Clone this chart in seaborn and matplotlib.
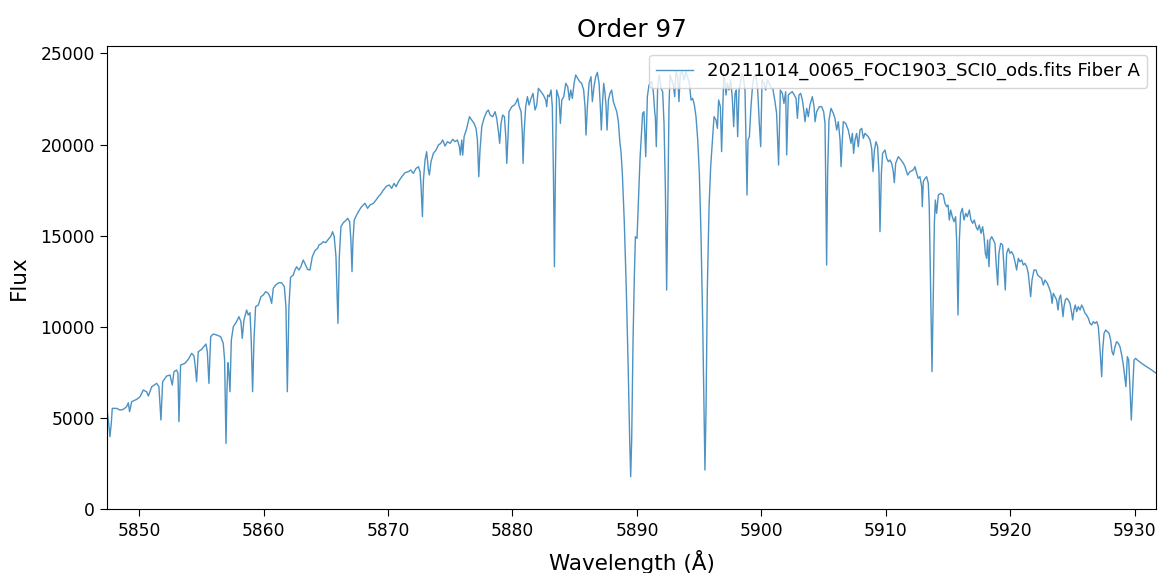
import matplotlib
matplotlib.use("Agg")
import matplotlib.pyplot as plt
import seaborn as sns
import numpy as np

title = "Order 97"
series_label = "20211014_0065_FOC1903_SCI0_ods.fits Fiber A"
x_label = "Wavelength (Å)"
y_label = "Flux"
x_ticks = [5850, 5860, 5870, 5880, 5890, 5900, 5910, 5920, 5930]
y_ticks = [0, 5000, 10000, 15000, 20000, 25000]

wavelength = [
    5847.43, 5847.54, 5847.64, 5847.75, 5847.83, 5848.18, 5848.45, 5848.72, 5848.98, 5849.12,
    5849.22, 5849.39, 5849.79, 5850.06, 5850.32, 5850.59, 5850.73, 5851.00, 5851.40, 5851.58,
    5851.74, 5851.88, 5852.20, 5852.47, 5852.65, 5852.79, 5853.00, 5853.11, 5853.19, 5853.32,
    5853.67, 5853.94, 5854.21, 5854.40, 5854.50, 5854.61, 5854.74, 5855.01, 5855.36, 5855.47,
    5855.60, 5855.74, 5855.95, 5856.22, 5856.54, 5856.75, 5856.86, 5856.97, 5857.05, 5857.13,
    5857.21, 5857.29, 5857.40, 5857.56,
    5857.82, 5858.01, 5858.17, 5858.28, 5858.41, 5858.63, 5858.76, 5858.90, 5859.00, 5859.11,
    5859.22, 5859.35, 5859.57, 5859.78, 5859.97, 5860.16, 5860.37, 5860.50, 5860.64, 5860.77,
    5860.96, 5861.23, 5861.44, 5861.66, 5861.79, 5861.90, 5862.03, 5862.16, 5862.38, 5862.51,
    5862.65, 5862.83, 5862.99, 5863.18, 5863.37, 5863.53, 5863.72, 5863.91, 5864.12, 5864.34,
    5864.44, 5864.60, 5864.79, 5864.98, 5865.19, 5865.41, 5865.54, 5865.67, 5865.81, 5865.97,
    5866.08, 5866.21, 5866.40, 5866.59, 5866.75, 5866.91, 5867.01, 5867.10, 5867.18, 5867.28,
    5867.47, 5867.66, 5867.87, 5868.14, 5868.35, 5868.54,
    5868.82, 5869.03, 5869.22, 5869.41, 5869.62, 5869.89, 5870.10, 5870.29, 5870.48, 5870.64,
    5870.83, 5871.10, 5871.36, 5871.63, 5871.82, 5872.03, 5872.25, 5872.44, 5872.57, 5872.65,
    5872.76, 5872.84, 5872.97, 5873.10, 5873.24, 5873.32, 5873.45, 5873.64, 5873.86, 5874.04,
    5874.23, 5874.39, 5874.58, 5874.77, 5874.98, 5875.20, 5875.38, 5875.57, 5875.73, 5875.81,
    5875.92, 5876.00, 5876.11, 5876.32, 5876.54, 5876.72, 5876.91, 5877.07, 5877.18, 5877.29,
    5877.39, 5877.53, 5877.71, 5877.93, 5878.06, 5878.20, 5878.41, 5878.60, 5878.73, 5878.87,
    5878.97, 5879.08, 5879.21, 5879.35, 5879.46, 5879.54, 5879.64,
    5879.72, 5879.94, 5880.15, 5880.28, 5880.42, 5880.53, 5880.69, 5880.79, 5880.85, 5880.93,
    5881.06, 5881.20, 5881.33, 5881.49, 5881.65, 5881.81, 5881.95, 5882.08, 5882.29, 5882.48,
    5882.67, 5882.75, 5882.83, 5882.96, 5883.10, 5883.20, 5883.29, 5883.37, 5883.45, 5883.55,
    5883.74, 5883.85, 5883.96, 5884.12, 5884.28, 5884.44, 5884.57, 5884.68, 5884.81, 5884.95,
    5885.08, 5885.24, 5885.40, 5885.56, 5885.72, 5885.83, 5885.91, 5886.02, 5886.15, 5886.31,
    5886.42, 5886.55, 5886.69, 5886.82, 5886.96, 5887.06, 5887.14, 5887.22, 5887.33, 5887.44,
    5887.52, 5887.60, 5887.71, 5887.84, 5887.97, 5888.11, 5888.24, 5888.38, 5888.51, 5888.64,
    5888.72, 5888.83, 5888.99, 5889.15, 5889.31, 5889.42, 5889.50, 5889.58, 5889.69, 5889.80,
    5889.88, 5890.01, 5890.12, 5890.25,
    5890.46, 5890.57, 5890.71, 5890.84, 5890.97, 5891.19, 5891.32, 5891.43, 5891.48, 5891.56,
    5891.67, 5891.80, 5891.94, 5892.07, 5892.18, 5892.29, 5892.39, 5892.50, 5892.58, 5892.66,
    5892.80, 5892.93, 5893.04, 5893.14, 5893.28, 5893.38, 5893.49, 5893.63, 5893.79, 5893.92,
    5894.06, 5894.22, 5894.35, 5894.48, 5894.62, 5894.75, 5894.89, 5895.02, 5895.15, 5895.29,
    5895.39, 5895.47, 5895.56, 5895.66, 5895.80, 5895.93, 5896.09, 5896.20, 5896.36, 5896.47,
    5896.57, 5896.71, 5896.81, 5896.90, 5896.98, 5897.08, 5897.16, 5897.27, 5897.40, 5897.54,
    5897.67, 5897.78, 5897.89, 5897.99, 5898.10, 5898.21, 5898.34, 5898.45, 5898.56, 5898.69,
    5898.77, 5898.85, 5898.93, 5899.04, 5899.17, 5899.31, 5899.44, 5899.57, 5899.71, 5899.84,
    5899.95, 5900.06, 5900.22, 5900.35, 5900.49, 5900.65, 5900.78, 5900.92,
    5901.10, 5901.23, 5901.39, 5901.53, 5901.69, 5901.82, 5901.96, 5902.04, 5902.17, 5902.31,
    5902.49, 5902.65, 5902.79, 5902.90, 5903.03, 5903.16, 5903.30, 5903.43, 5903.51, 5903.65,
    5903.78, 5903.91, 5904.10, 5904.24, 5904.32, 5904.45, 5904.66, 5904.85, 5905.01, 5905.12,
    5905.17, 5905.25, 5905.33, 5905.44, 5905.60, 5905.79, 5905.92, 5906.06, 5906.19, 5906.33,
    5906.41, 5906.51, 5906.59, 5906.78, 5906.99, 5907.21, 5907.32, 5907.42, 5907.53, 5907.66,
    5907.80, 5907.93, 5908.07, 5908.20, 5908.33, 5908.47, 5908.60, 5908.74, 5908.87, 5908.98,
    5909.09, 5909.22, 5909.35, 5909.46, 5909.54, 5909.65, 5909.75, 5909.94, 5910.08, 5910.21,
    5910.34, 5910.48, 5910.61, 5910.69, 5910.80, 5911.01, 5911.23, 5911.42, 5911.55, 5911.76,
    5911.95,
    5912.22, 5912.35, 5912.49, 5912.62, 5912.75, 5912.89, 5912.94, 5913.02, 5913.16, 5913.29,
    5913.42, 5913.50, 5913.61, 5913.72, 5913.83, 5913.91, 5913.99, 5914.09, 5914.23, 5914.42,
    5914.63, 5914.76, 5914.90, 5915.01, 5915.11, 5915.22, 5915.35, 5915.49, 5915.62, 5915.70,
    5915.81, 5915.92, 5916.02, 5916.16, 5916.29, 5916.43, 5916.56, 5916.72, 5916.85, 5916.99,
    5917.12, 5917.26, 5917.39, 5917.52, 5917.66, 5917.79, 5917.90, 5918.01, 5918.11, 5918.19,
    5918.30, 5918.38, 5918.52, 5918.65, 5918.78, 5918.86, 5919.00, 5919.10, 5919.24, 5919.40,
    5919.53, 5919.61, 5919.72, 5919.86, 5919.99, 5920.12, 5920.26, 5920.39, 5920.52, 5920.66,
    5920.79, 5920.93, 5921.06, 5921.19, 5921.33, 5921.46, 5921.54, 5921.65, 5921.76, 5921.92,
    5922.08, 5922.21, 5922.35,
    5922.53, 5922.67, 5922.80, 5922.99, 5923.15, 5923.28, 5923.37, 5923.47, 5923.61, 5923.74,
    5923.85, 5923.95, 5924.06, 5924.14, 5924.25, 5924.33, 5924.44, 5924.54, 5924.68, 5924.81,
    5924.95, 5925.03, 5925.13, 5925.24, 5925.35, 5925.48, 5925.62, 5925.75, 5925.88, 5926.02,
    5926.15, 5926.29, 5926.42, 5926.55, 5926.69, 5926.82, 5926.96, 5927.09, 5927.17, 5927.28,
    5927.36, 5927.44, 5927.55, 5927.68, 5927.81, 5927.95, 5928.08, 5928.19, 5928.30, 5928.43,
    5928.56, 5928.70, 5928.83, 5928.97, 5929.10, 5929.21, 5929.31, 5929.42, 5929.53, 5929.64,
    5929.74, 5929.85, 5929.96, 5930.09, 5930.22, 5930.39, 5930.57, 5930.76, 5930.97, 5931.19,
    5931.38, 5931.56, 5931.75,
]

flux = [
    5351, 4710, 3980, 4710, 5534, 5534, 5443, 5480, 5625, 5845,
    5351, 5900, 6027, 6173, 6539, 6448, 6210, 6722, 6905, 6722,
    4895, 6997, 7306, 7362, 6814, 7545, 7636, 7454, 4804, 7910,
    8002, 8221, 8551, 8404, 7819, 6997, 8642, 8770, 9063, 8642,
    6905, 9465, 9612, 9557, 9465, 9099, 8185, 3614, 6539, 8038,
    7454, 6448, 9282, 10013,
    10288, 10562, 10288, 9374, 10379, 10927, 10653, 10781, 9282, 6448,
    9282, 11110, 11201, 11658, 11750, 11933, 11841, 11658, 11293, 12115,
    12298, 12426, 12426, 12207, 11110, 6448, 11110, 12718, 12846, 13120,
    13303, 13120, 13303, 13669, 13394, 13156, 13120, 13852, 14179, 14307,
    14490, 14545, 14673, 14618, 14801, 14984, 15222, 14947, 13852, 10196,
    13852, 15496, 15716, 15826, 15954, 15771, 14765, 13029, 14765, 15862,
    16137, 16374, 16593, 16776, 16502, 16685,
    16776, 16959, 17141, 17288, 17507, 17726, 17781, 17598, 17872, 17690,
    17964, 18238, 18457, 18512, 18603, 18420, 18695, 18786, 18512, 17690,
    16045, 18055, 19152, 19608, 18603, 18329, 19060, 19517, 19700, 19974,
    20066, 20249, 19919, 20157, 20066, 20285, 20157, 20249, 19883, 19426,
    20249, 19426, 20431, 20888, 21528, 21345, 21163, 20888, 20249, 18238,
    19700, 20980, 21437, 21802, 21894, 21620, 21528, 21802, 21437, 20706,
    20066, 21163, 21620, 21528, 20431, 18969, 20431,
    21802, 22076, 22168, 22296, 22533, 22113, 21802, 20614, 18969, 20614,
    22076, 22625, 22168, 22533, 22808, 21894, 22168, 23082, 22899, 22716,
    22442, 22076, 22716, 22625, 22990, 22076, 18420, 13303, 18420, 22990,
    22533, 21163, 22442, 22625, 23356, 23173, 22442, 22990, 22533, 23356,
    23813, 23630, 23447, 23356, 22990, 22076, 20523, 22076, 23356, 23721,
    22351, 23173, 23721, 23959, 23356, 22076, 20797, 22076, 23356, 22808,
    22076, 20797, 22442, 22808, 22990, 22351, 22076, 21802, 21254, 20066,
    19609, 18420, 15679, 12022, 7452, 3798, 1787, 3798, 9280, 12936,
    14947, 14856, 16776, 19200,
    21711, 21802, 19335, 22625, 23264, 23447, 22899, 21802, 21528, 19883,
    23173, 23813, 23082, 22899, 21163, 17507, 12022, 17507, 22076, 23813,
    23539, 23264, 22625, 23996, 23721, 22351, 23904, 23996, 23539, 23996,
    23721, 23356, 22442, 22533, 22168, 21528, 20249, 18420, 15130, 10196,
    5625, 2153, 5625, 12022, 16593, 18786, 20431, 21528, 21345, 20888,
    22442, 22076, 19609, 21894, 23813, 23356, 22716, 23356, 22990, 23539,
    22533, 20980, 22808, 22990, 20431, 22990, 23447, 23904, 23721, 22990,
    20249, 17232, 20249, 20431, 22076, 23356, 23813, 23721, 22990, 21163,
    19883, 23539, 23356, 22990, 23539, 23356, 23082, 23082,
    22351, 21711, 18878, 22990, 22808, 22259, 22899, 19426, 22716, 22808,
    22899, 22716, 22533, 21437, 22716, 22808, 22442, 21802, 21254, 21985,
    21528, 22168, 22625, 22076, 21254, 21802, 22076, 22076, 21802, 21163,
    18420, 13395, 18420, 21345, 21985, 21711, 21437, 20797, 21254, 20249,
    18787, 20249, 21254, 21163, 20797, 20066, 20614, 19518, 20249, 20614,
    19883, 20797, 20888, 20340, 20614, 20523, 20432, 20249, 19792, 18513,
    19700, 20157, 19883, 18420, 15223, 18420, 19518, 19700, 19244, 19061,
    19152, 18970, 18513, 17909, 18970, 19335, 19152, 18970, 18787, 18330,
    18513,
    18604, 18787, 18421, 18147, 18238, 17690, 16594, 17964, 18147, 18238,
    17873, 16594, 12024, 7546, 12024, 15680, 16959, 16228, 17233, 17325,
    17233, 16776, 16594, 16685, 15862, 16411, 16045, 15771, 16045, 14766,
    10653, 14766, 16228, 16502, 15862, 16228, 16045, 16411, 15862, 15680,
    15862, 15497, 15314, 15588, 15131, 15497, 14949, 14035, 13761, 14766,
    13304, 14766, 14949, 14766, 14583, 13669, 12298, 14035, 14583, 14492,
    12938, 12024, 14035, 14309, 14035, 14126, 13943, 13578, 13121, 13761,
    13578, 13669, 13395, 13486, 13304, 12938, 12390, 11659, 12573, 13121,
    13121, 12847, 12755,
    12664, 12298, 12573, 12390, 12116, 11841, 11293, 11841, 11659, 11476,
    10928, 11567, 11750, 11293, 10562, 11110, 11476, 11567, 11476, 11293,
    10745, 10379, 10928, 11202, 10836, 11110, 10928, 11202, 11019, 10745,
    10653, 10470, 10197, 10105, 10288, 10197, 10288, 10014, 9283, 8186,
    7272, 8734, 9648, 9831, 9740, 9648, 9283, 8643, 8460, 8917,
    9191, 9100, 8917, 8460, 7912, 7272, 6724, 8369, 8186, 6541,
    4896, 6541, 8186, 8277, 8186, 8095, 8003, 7912, 7821, 7729,
    7638, 7547, 7455,
]

W, H, DPI = 1162, 573, 100
fig, ax = plt.subplots(figsize=(W / DPI, H / DPI), dpi=DPI)
fig.subplots_adjust(left=107.3 / W, right=1156.3 / W, bottom=1 - 509.3 / H, top=1 - 45.7 / H)

sns.lineplot(x=wavelength, y=flux, ax=ax, color="C0", alpha=0.8, linewidth=1.0,
             label=series_label, sort=False, estimator=None)

ax.set_xlim(min(wavelength), max(wavelength))
ax.set_ylim(0, 25420)
ax.set_xticks(x_ticks)
ax.set_yticks(y_ticks)
ax.tick_params(labelsize=12.3, length=5, pad=4)
ax.set_title(title, fontsize=17.8)
ax.set_xlabel(x_label, fontsize=15.5, labelpad=7)
ax.set_ylabel(y_label, fontsize=15.5, labelpad=8)
ax.legend(loc="upper right", fontsize=13.05)

fig.savefig("out.png", dpi=DPI)
